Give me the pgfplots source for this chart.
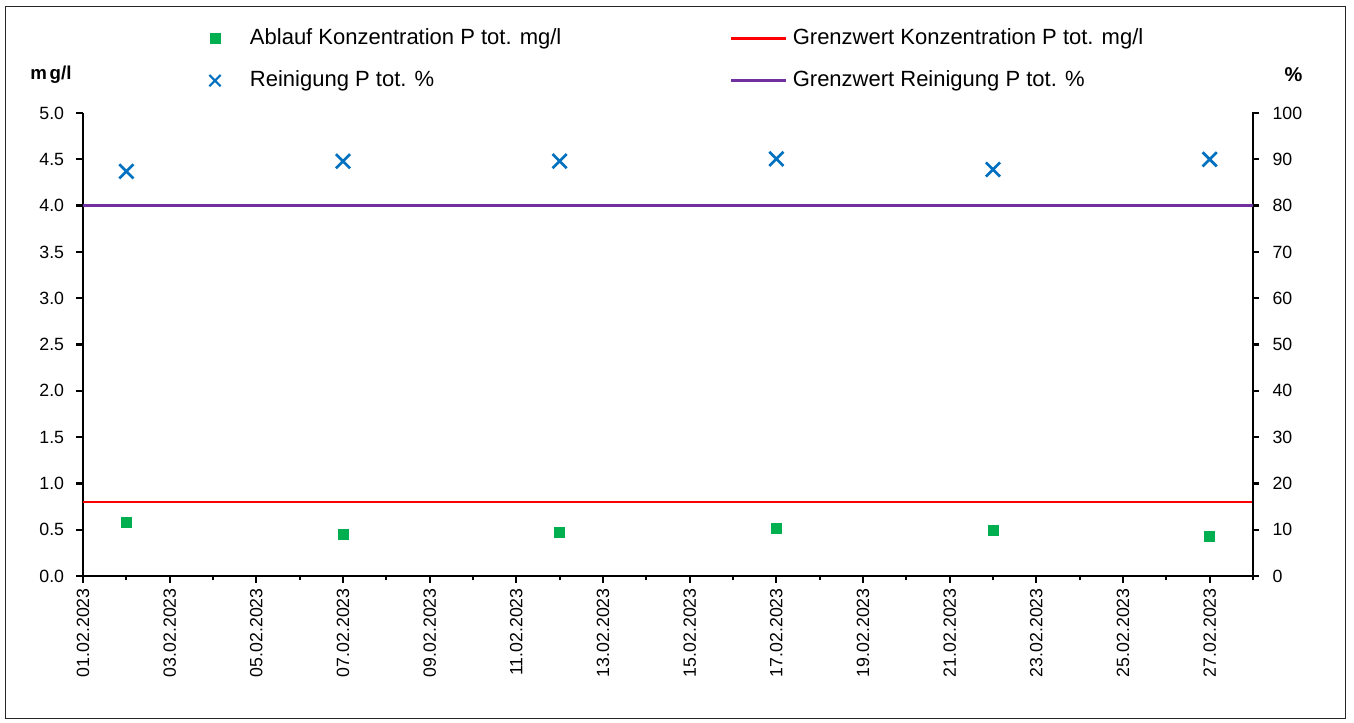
\documentclass[border=0pt]{standalone}
\usepackage{pgfplots}
\pgfplotsset{compat=1.18}
\usepackage{fontspec}
\setmainfont{Liberation Sans}
\definecolor{cgreen}{RGB}{0,176,80}
\definecolor{cblue}{RGB}{0,112,192}
\definecolor{cred}{RGB}{255,0,0}
\definecolor{cpurple}{RGB}{112,48,160}
\pgfplotsset{
  markleg/.style={legend image code/.code={\path[draw=none,fill=none] (-5pt,-4pt) rectangle (26.25pt,4pt); \draw[##1] plot coordinates {(0pt,0pt)};}},
  lineleg/.style={legend image code/.code={\path[draw=none,fill=none] (0pt,-4pt) rectangle (41.25pt,4pt); \draw[##1] (0pt,0pt) -- (41.25pt,0pt);}},
  base/.style={
    scale only axis, width=877.5pt, height=347.25pt,
    xmin=0, xmax=27, ymin=0,
    at={(0,0)}, anchor=south west,
    ticklabel style={font=\fontsize{13.3}{15}\selectfont, inner sep=0pt},
    /pgf/number format/assume math mode=true,
    legend cell align=left,
    legend style={draw=none, fill=none, inner sep=0pt, outer sep=0pt, anchor=north west,
      row sep=16pt, font=\fontsize{16.5}{19}\selectfont,
      nodes={inner sep=0pt, text height=12pt, text depth=3.5pt}},
    clip=false,
  },
  fixlines/.style={
    tick align=outside,
    axis line style={line width=2.2pt, -},
    x axis line style={-}, y axis line style={-},
    every outer x axis line/.append style={-},
    every outer y axis line/.append style={-},
    every inner x axis line/.append style={-},
    every inner y axis line/.append style={-},
    every tick/.append style={black, line width=1.7pt},
    major tick style={black, line width=1.7pt},
    minor tick style={black, line width=1.7pt},
  }
}
\begin{document}
\begin{tikzpicture}
\useasboundingbox (-62.25pt,-109.5pt) rectangle (953.25pt,432pt);
\fill[white] (-62.25pt,-109.5pt) rectangle (953.25pt,432pt);
\draw[line width=0.75pt, black!85] (-57.75pt,-106.5pt) rectangle (946.5pt,426.75pt);
\begin{axis}[base,
  ymax=5,
  axis x line=bottom, axis y line=left,
  fixlines,
  xtick={0,2,...,26},
  minor xtick={1,3,...,27},
  major tick length=5pt, minor tick length=3pt,
  xticklabels={01.02.2023,03.02.2023,05.02.2023,07.02.2023,09.02.2023,11.02.2023,13.02.2023,15.02.2023,17.02.2023,19.02.2023,21.02.2023,23.02.2023,25.02.2023,27.02.2023},
  xticklabel style={rotate=90, anchor=east},
  xticklabel shift=4pt,
  ytick={0,0.5,...,5},
  yticklabel style={/pgf/number format/.cd, fixed, fixed zerofill, precision=1},
  yticklabel shift=9pt,
  legend style={at={(0.10712,1.1830)}, column sep=0pt},
]
\draw[line width=2.2pt, black, line join=miter] (rel axis cs:0,1) -- (rel axis cs:0,0) -- (rel axis cs:1,0);
\addplot[only marks, mark=square*, mark size=3.75pt, color=cgreen, markleg] coordinates {
  (1,0.58) (6,0.45) (11,0.47) (16,0.515) (21,0.49) (26,0.43)};
\addlegendentry{Ablauf Konzentration P tot. mg/l}
\addplot[cred, line width=2.1pt, forget plot] coordinates {(0,0.8) (27,0.8)};
\addlegendimage{only marks, mark=x, mark size=6pt, color=cblue, line width=1.7pt, markleg}
\addlegendentry{Reinigung P tot. \%}
\node[font=\bfseries\fontsize{14}{16}\selectfont] at (axis description cs:-0.02735,1.0821) {m\kern2pt g/l};
\end{axis}
\begin{axis}[base,
  ymax=100,
  axis x line=none, axis y line=right,
  fixlines,
  ytick={0,10,...,100},
  major tick length=4.5pt,
  yticklabel shift=10pt,
  legend style={at={(0.55299,1.1830)}, column sep=3.75pt},
]
\draw[line width=2.2pt, black, line cap=rect] (rel axis cs:1,0) -- (rel axis cs:1,1);
\addlegendimage{cred, line width=2.1pt, lineleg}
\addlegendentry{Grenzwert Konzentration P tot. mg/l}
\addplot[only marks, mark=x, mark size=7.5pt, color=cblue, line width=2pt, forget plot] coordinates {
  (1,87.4) (6,89.6) (11,89.6) (16,90.1) (21,87.8) (26,90.0)};
\addplot[cpurple, line width=1.9pt, lineleg] coordinates {(0,80) (27,80)};
\addlegendentry{Grenzwert Reinigung P tot. \%}
\node[font=\bfseries\fontsize{15}{17}\selectfont] at (axis description cs:1.0346,1.0821) {\%};
\end{axis}
\end{tikzpicture}
\end{document}
